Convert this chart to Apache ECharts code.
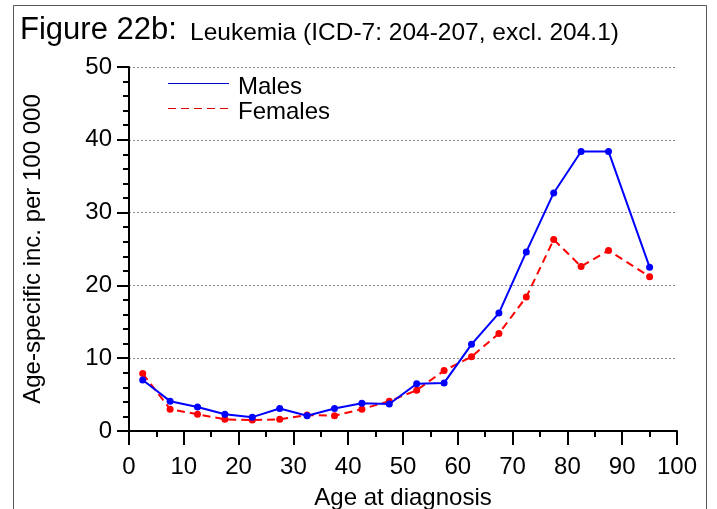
<!DOCTYPE html>
<html>
<head>
<meta charset="utf-8">
<script src="https://cdn.jsdelivr.net/npm/echarts@6/dist/echarts.min.js"></script>
<style>
  html, body { margin: 0; padding: 0; background: #fff; }
  #chart { width: 717px; height: 509px; }
</style>
</head>
<body>
<div id="chart"></div>
<script>
// Age group midpoints (years)
const ageMidpoints = [2.5, 7.5, 12.5, 17.5, 22.5, 27.5, 32.5, 37.5, 42.5, 47.5,
                      52.5, 57.5, 62.5, 67.5, 72.5, 77.5, 82.5, 87.5, 95];
// Age-specific incidence per 100 000
const males   = [7.0, 4.1, 3.3, 2.3, 1.9, 3.1, 2.1, 3.1, 3.8, 3.7,
                 6.5, 6.6, 11.9, 16.2, 24.6, 32.7, 38.4, 38.4, 22.5];
const females = [7.9, 3.0, 2.3, 1.6, 1.5, 1.6, 2.2, 2.1, 3.0, 4.1,
                 5.6, 8.3, 10.2, 13.4, 18.4, 26.3, 22.6, 24.8, 21.2];
const legendNames = ['Males', 'Females'];
const titleMain = 'Figure 22b:';
const titleSub = 'Leukemia (ICD-7: 204-207, excl. 204.1)';

const FONT = 'Liberation Sans, Arial, Helvetica, sans-serif';
const pairs = (ys) => ageMidpoints.map((x, i) => [x, ys[i]]);

const chart = echarts.init(document.getElementById('chart'), null, { renderer: 'canvas' });

const axisText = { color: '#000', fontFamily: FONT, fontSize: 24 };

chart.setOption({
  animation: false,
  backgroundColor: '#fff',
  grid: { left: 129, right: 40, top: 67, bottom: 78, containLabel: false, outerBoundsMode: 'none' },
  xAxis: {
    type: 'value', min: 0, max: 100, interval: 10,
    name: 'Age at diagnosis', nameLocation: 'middle', nameGap: 55,
    nameTextStyle: axisText,
    axisLine: { show: true, onZero: false, lineStyle: { color: '#000', width: 2 } },
    axisTick: { show: true, inside: false, length: 14, lineStyle: { color: '#000', width: 2 } },
    minorTick: { show: true, splitNumber: 2, length: 6, lineStyle: { color: '#000', width: 2 } },
    axisLabel: Object.assign({ margin: 24 }, axisText),
    splitLine: { show: false }
  },
  yAxis: {
    type: 'value', min: 0, max: 50, interval: 10,
    name: 'Age-specific inc. per 100 000', nameLocation: 'middle', nameGap: 84,
    nameTextStyle: axisText,
    axisLine: { show: true, lineStyle: { color: '#000', width: 2 } },
    axisTick: { show: true, inside: false, length: 12, lineStyle: { color: '#000', width: 2 } },
    minorTick: { show: true, splitNumber: 5, length: 6, lineStyle: { color: '#000', width: 2 } },
    axisLabel: Object.assign({ margin: 17 }, axisText),
    splitLine: { show: true, lineStyle: { color: '#888', width: 1, type: [2, 2] } }
  },
  series: [
    {
      name: legendNames[0], type: 'line', data: pairs(males),
      symbol: 'circle', symbolSize: 7,
      lineStyle: { color: '#0000ff', width: 2 },
      itemStyle: { color: '#0000ff' }, z: 3
    },
    {
      name: legendNames[1], type: 'line', data: pairs(females),
      symbol: 'circle', symbolSize: 7,
      lineStyle: { color: '#ff0000', width: 2, type: [8, 5] },
      itemStyle: { color: '#ff0000' }, z: 2
    }
  ],
  graphic: [
    // outer frame
    { type: 'rect', shape: { x: 13.5, y: 5.5, width: 693, height: 520 },
      style: { fill: 'none', stroke: '#555', lineWidth: 1 }, silent: true },
    // title
    { type: 'text', left: 20, top: 15,
      style: { text: titleMain, font: '31px ' + FONT, fill: '#000' } },
    { type: 'text', left: 190, top: 21,
      style: { text: titleSub, font: '24.5px ' + FONT, fill: '#000' } },
    // key
    { type: 'line', shape: { x1: 168, y1: 83.5, x2: 229, y2: 83.5 },
      style: { stroke: '#0000cc', lineWidth: 1.2 } },
    { type: 'text', left: 238, top: 75,
      style: { text: legendNames[0], font: '24px ' + FONT, fill: '#000' } },
    { type: 'line', shape: { x1: 168, y1: 108.5, x2: 229, y2: 108.5 },
      style: { stroke: '#dd0000', lineWidth: 1.2, lineDash: [8, 5] } },
    { type: 'text', left: 238, top: 100,
      style: { text: legendNames[1], font: '24px ' + FONT, fill: '#000' } }
  ]
});
</script>
</body>
</html>
